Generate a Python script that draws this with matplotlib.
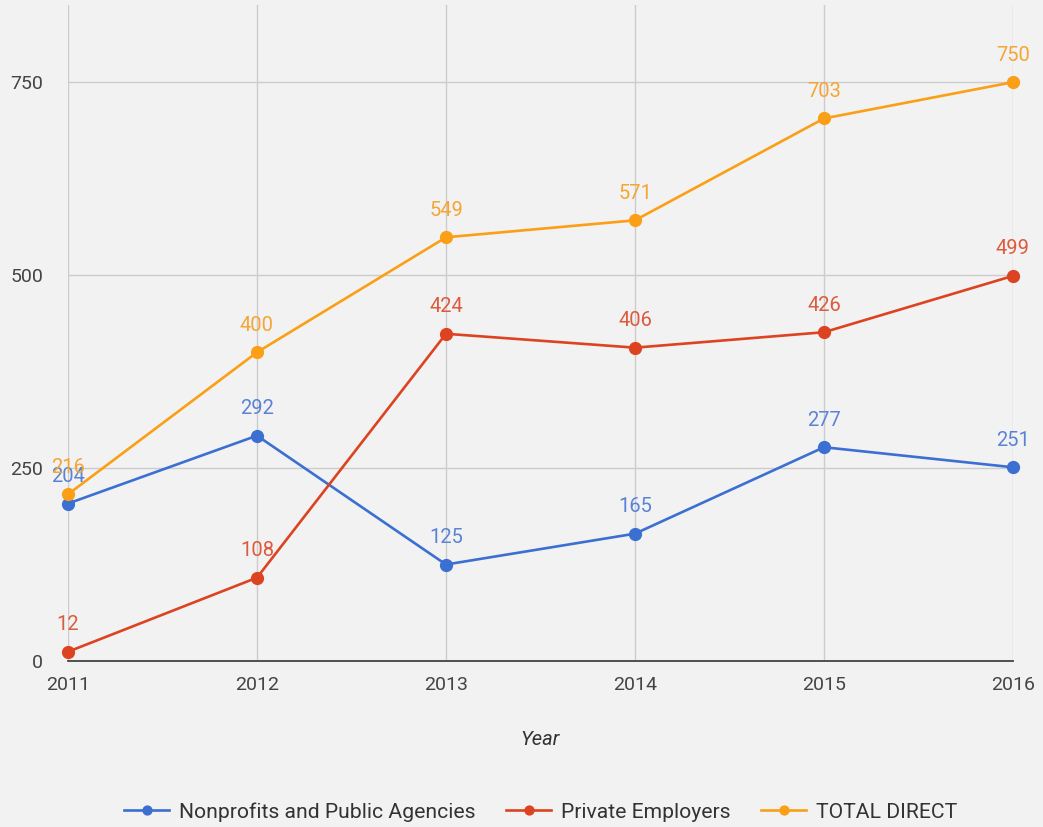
import matplotlib
matplotlib.use("Agg")
import matplotlib.pyplot as plt

years = [2011, 2012, 2013, 2014, 2015, 2016]
nonprofits = [204, 292, 125, 165, 277, 251]
private = [12, 108, 424, 406, 426, 499]
total = [216, 400, 549, 571, 703, 750]
series_names = ["Nonprofits and Public Agencies", "Private Employers", "TOTAL DIRECT"]
y_ticks = [0, 250, 500, 750]

colors = ["#3b6fd1", "#dc4320", "#fa9f16"]
label_colors = ["#5a82d6", "#dd5a3c", "#f5a533"]

plt.rcParams['font.family'] = ['Roboto', 'DejaVu Sans']
bg = "#f2f2f2"
fig = plt.figure(figsize=(10.43, 8.27), dpi=100, facecolor=bg)
ax = fig.add_axes([68/1043, 1-661/827, (1013-68)/1043, (661-5)/827])
ax.set_facecolor(bg)

for vals, c, lc, name in zip([nonprofits, private, total], colors, label_colors, series_names):
    ax.plot(years, vals, color=c, lw=1.9, marker='o', ms=8.5, label=name, zorder=3, clip_on=False)
    for x, v in zip(years, vals):
        ax.annotate(str(v), (x, v), xytext=(0, 27), textcoords='offset pixels',
                    ha='center', va='center', color=lc, fontsize=14.5, zorder=4)

ax.set_xlim(2011, 2016)
ax.set_ylim(0, 850)
ax.set_yticks(y_ticks)
ax.set_xticks(years)
ax.set_xticklabels([str(y) for y in years])
ax.grid(True, color="#cccccc", lw=1)
ax.set_axisbelow(True)
for s in ['top', 'right', 'left']:
    ax.spines[s].set_visible(False)
ax.spines['bottom'].set_color('#444444')
ax.spines['bottom'].set_linewidth(1.3)
ax.tick_params(axis='both', length=0, labelsize=14, colors='#444444')
ax.tick_params(axis='y', pad=18)
ax.tick_params(axis='x', pad=11)
ax.set_xlabel("Year", fontsize=14.5, style='italic', color='#333333', labelpad=26)

leg = fig.legend(loc='center', bbox_to_anchor=(541/1043, 1-812/827), ncol=3, frameon=False,
                 fontsize=15.2, handlelength=2.1, handletextpad=0.5, columnspacing=1.45,
                 markerscale=0.75)
for t in leg.get_texts():
    t.set_color('#333333')

fig.savefig("out.png", dpi=100, facecolor=bg)
